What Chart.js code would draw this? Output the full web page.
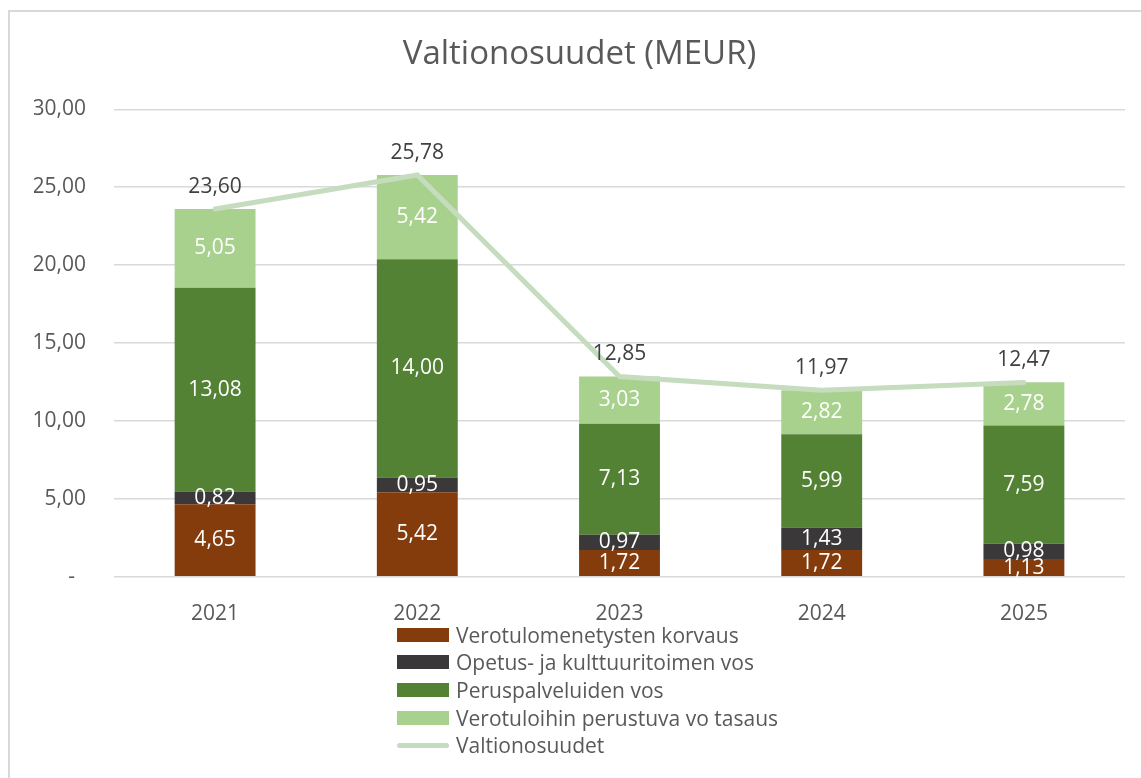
<!DOCTYPE html>
<html>
<head>
<meta charset="utf-8">
<script src="https://cdn.jsdelivr.net/npm/chart.js@4/dist/chart.umd.min.js"></script>
<style>
  html, body { margin: 0; padding: 0; background: #fff; }
  #wrap { position: relative; width: 1141px; height: 778px; overflow: hidden; }
  #frame { position: absolute; left: 8px; top: 10px; width: 1200px; height: 900px;
           border-left: 2px solid #d9d9d9; border-top: 2px solid #d9d9d9; }
  #valtioChart { position: absolute; left: 0; top: 0; }
  #legend { position: absolute; left: 397px; top: 621px; font-family: "Open Sans", sans-serif;
            font-size: 21px; color: #595959; }
  .item { height: 27.6px; display: flex; align-items: center; }
  .swatch { width: 52px; height: 14px; margin-right: 7px; }
  .line { height: 5px; border-radius: 3px; }
</style>
</head>
<body>
<div id="wrap">
  <div id="frame"></div>
  <canvas id="valtioChart" width="1141" height="778"></canvas>
  <div id="legend"></div>
</div>
<script>
const years = ["2021", "2022", "2023", "2024", "2025"];
const verotulomenetysten = [4.65, 5.42, 1.72, 1.72, 1.13];
const opetus = [0.82, 0.95, 0.97, 1.43, 0.98];
const peruspalvelut = [13.08, 14.00, 7.13, 5.99, 7.59];
const tasaus = [5.05, 5.42, 3.03, 2.82, 2.78];
const valtionosuudet = [23.60, 25.78, 12.85, 11.97, 12.47];
const yTicks = [0, 5, 10, 15, 20, 25, 30];

const fmt = v => v.toFixed(2).replace(".", ",");
const FONT = "'Open Sans', sans-serif";

// labels on the bars and above the line
const labelPlugin = {
  id: "valueLabels",
  afterDatasetsDraw(chart) {
    const ctx = chart.ctx;
    ctx.save();
    ctx.font = "21px " + FONT;
    ctx.textAlign = "center";
    ctx.textBaseline = "middle";
    chart.data.datasets.forEach((ds, i) => {
      const meta = chart.getDatasetMeta(i);
      meta.data.forEach((el, j) => {
        const v = ds.data[j];
        if (ds.type === "line") {
          ctx.fillStyle = "#404040";
          ctx.fillText(fmt(v), el.x, el.y - 22);
        } else {
          ctx.fillStyle = "#ffffff";
          ctx.fillText(fmt(v), el.x, (el.y + el.base) / 2);
        }
      });
    });
    ctx.restore();
  }
};

const barDs = (label, data, color) => ({
  type: "bar", label: label, data: data, backgroundColor: color,
  barPercentage: 0.4, categoryPercentage: 1, order: 1
});

const ctx = document.getElementById("valtioChart").getContext("2d");
const chart = new Chart(ctx, {
  data: {
    labels: years,
    datasets: [
      barDs("Verotulomenetysten korvaus", verotulomenetysten, "#843c0c"),
      barDs("Opetus- ja kulttuuritoimen vos", opetus, "#3a3838"),
      barDs("Peruspalveluiden vos", peruspalvelut, "#548235"),
      barDs("Verotuloihin perustuva vo tasaus", tasaus, "#a9d18e"),
      {
        type: "line", label: "Valtionosuudet", data: valtionosuudet,
        borderColor: "#c5dcbe", borderWidth: 5, pointRadius: 0,
        borderCapStyle: "round", tension: 0, stack: "total", order: 0
      }
    ]
  },
  options: {
    responsive: false,
    animation: false,
    layout: { padding: { left: 34, right: 16, top: 0, bottom: 151.3 } },
    plugins: {
      legend: { display: false },
      tooltip: { enabled: false },
      title: {
        display: true, text: "Valtionosuudet (MEUR)", color: "#595959",
        font: { family: FONT, size: 33, weight: "normal", lineHeight: 1.2 },
        padding: { top: 35, bottom: 34.7 }
      }
    },
    scales: {
      x: {
        stacked: true,
        grid: { display: false },
        border: { display: false },
        ticks: { color: "#595959", font: { family: FONT, size: 21 }, padding: 17 },
        afterFit: s => { s.height = 50; }
      },
      y: {
        stacked: true, min: 0, max: 30,
        afterBuildTicks: s => { s.ticks = yTicks.map(v => ({ value: v })); },
        afterFit: s => { s.width = 80; },
        grid: { color: "#d9d9d9", lineWidth: 1.5, drawTicks: false },
        border: { display: false },
        ticks: {
          color: "#595959", font: { family: FONT, size: 21 }, padding: 28,
          callback: v => v === 0 ? "-  " : fmt(v)
        }
      }
    }
  },
  plugins: [labelPlugin]
});

// vertical legend under the chart, built from the datasets
const legend = document.getElementById("legend");
chart.data.datasets.forEach(ds => {
  const row = document.createElement("div");
  row.className = "item";
  const sw = document.createElement("span");
  sw.className = ds.type === "line" ? "swatch line" : "swatch";
  sw.style.background = ds.type === "line" ? ds.borderColor : ds.backgroundColor;
  const tx = document.createElement("span");
  tx.textContent = ds.label;
  row.appendChild(sw);
  row.appendChild(tx);
  legend.appendChild(row);
});
</script>
</body>
</html>
